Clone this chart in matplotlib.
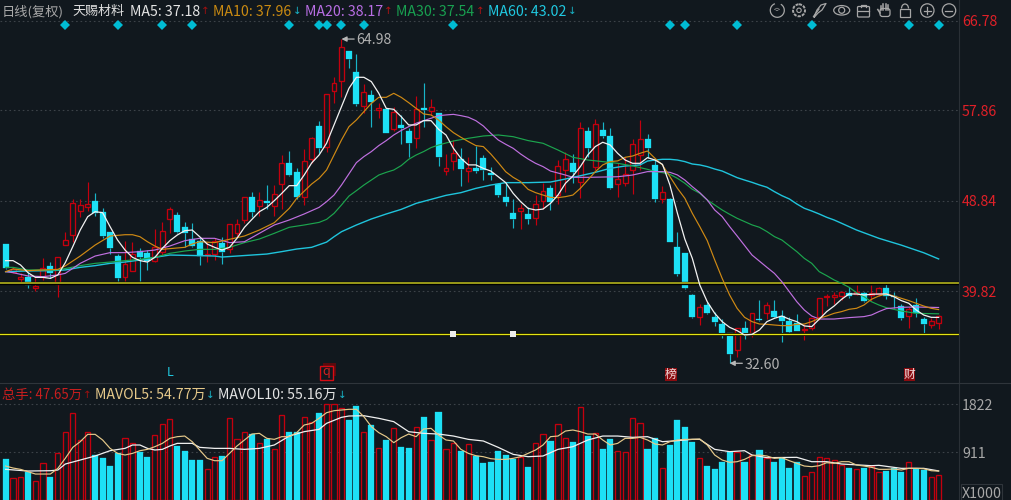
import matplotlib
matplotlib.use("Agg")
import matplotlib.pyplot as plt
from matplotlib.patches import Circle, Ellipse, Rectangle, Arc, FancyBboxPatch

plt.rcParams['font.family'] = ['Noto Sans CJK SC', 'DejaVu Sans']

BG = "#11181e"
RED = "#c4000e"
CYAN = "#1de0f5"
WICK_CYAN = "#18b4c8"

opens = [44.51, 41.75, 41.02, 41.25, 40.15, 41.18, 42.35, 40.48, 44.38, 45.38,
         47.77, 48.24, 48.84, 47.74, 45.74, 43.31, 41.25, 41.82, 43.85, 43.65,
         42.85, 43.75, 47.04, 47.37, 46.24, 44.98, 44.84, 43.38, 43.51, 44.58,
         44.05, 45.58, 46.91, 49.17, 48.3, 48.84, 48.3, 50.5, 52.57, 51.74,
         49.24, 52.97, 56.3, 54.24, 59.79, 60.79, 63.82, 61.72, 58.3, 59.4,
         57.93, 57.96, 55.97, 56.4, 55.8, 55.07, 58.13, 57.83, 57.57, 51.8,
         52.77, 53.0, 51.8, 52.07, 53.1, 51.63, 50.5, 49.24, 47.57, 47.8,
         47.47, 47.14, 48.77, 50.14, 49.4, 51.9, 52.57, 50.67, 55.8, 52.2,
         55.9, 55.33, 50.54, 50.64, 51.9, 53.4, 55.0, 52.4, 48.97, 48.97,
         44.18, 43.65, 39.42, 37.26, 38.42, 37.26, 36.52, 35.66, 33.93, 36.09,
         35.59, 37.02, 37.59, 37.82, 37.32, 36.86, 36.59, 35.89, 36.09, 37.19,
         39.19, 39.25, 39.35, 39.58, 39.52, 39.58, 39.42, 39.49, 40.15, 39.3,
         38.32, 37.36, 38.42, 37.02, 36.42, 36.66]
highs = [44.51, 42.2, 41.6, 41.7, 41.1, 43.1, 42.75, 43.18, 45.74, 48.97,
         48.97, 50.67, 49.57, 48.14, 45.74, 43.5, 44.84, 44.74, 44.08, 43.91,
         45.98, 46.74, 48.24, 47.74, 46.74, 46.57, 45.08, 44.74, 45.08, 45.18,
         46.48, 46.97, 49.17, 49.74, 49.7, 50.4, 50.4, 53.4, 53.8, 52.07,
         54.0, 55.2, 56.83, 59.46, 61.16, 64.98, 63.82, 63.49, 60.49, 59.9,
         58.63, 57.96, 58.23, 57.4, 56.07, 59.3, 60.56, 59.03, 57.57, 53.5,
         54.9, 54.07, 53.2, 54.25, 53.4, 52.24, 50.6, 50.64, 48.97, 48.47,
         48.24, 49.4, 50.57, 50.4, 52.9, 53.7, 53.5, 56.73, 56.17, 56.97,
         56.73, 56.07, 52.57, 53.24, 54.97, 56.9, 55.5, 52.9, 50.3, 49.07,
         45.74, 43.65, 39.52, 38.52, 38.75, 37.76, 37.0, 35.66, 36.16, 36.86,
         37.59, 38.92, 38.75, 38.92, 37.92, 37.19, 37.52, 36.52, 37.09, 39.15,
         39.49, 39.75, 39.85, 40.25, 40.42, 39.7, 40.42, 40.2, 40.49, 39.75,
         38.5, 38.2, 39.09, 37.19, 37.09, 37.42]
lows = [41.98, 41.6, 40.75, 40.15, 39.85, 40.9, 41.1, 39.25, 44.38, 44.74,
        47.24, 47.84, 47.3, 45.08, 43.48, 40.82, 40.82, 41.82, 40.82, 41.92,
        42.75, 43.41, 45.58, 45.58, 44.25, 44.18, 42.38, 42.75, 42.92, 42.48,
        43.58, 45.24, 46.64, 47.17, 47.3, 47.97, 47.3, 47.97, 51.3, 48.97,
        48.4, 52.57, 53.64, 53.74, 58.56, 59.23, 62.06, 58.3, 57.63, 56.17,
        57.07, 55.63, 55.83, 54.5, 53.24, 54.07, 56.23, 57.4, 52.3, 51.4,
        51.9, 50.34, 50.74, 51.57, 50.9, 50.9, 49.24, 48.3, 46.08, 45.98,
        46.51, 46.41, 47.97, 47.9, 48.47, 49.74, 50.57, 49.07, 53.24, 51.9,
        55.07, 50.0, 49.17, 50.3, 49.5, 51.9, 53.07, 48.67, 48.57, 44.68,
        41.35, 39.99, 37.09, 36.43, 37.52, 36.33, 35.16, 32.6, 33.26, 35.03,
        35.19, 36.86, 37.0, 37.09, 34.76, 35.66, 35.83, 34.93, 35.93, 36.92,
        38.32, 38.52, 38.92, 39.09, 39.4, 38.75, 38.85, 39.35, 39.02, 38.09,
        36.92, 36.09, 37.19, 35.53, 36.09, 36.03]
closes = [42.12, 42.05, 41.18, 40.42, 40.32, 42.08, 41.65, 43.18, 44.91, 48.57,
          48.4, 48.5, 47.64, 45.31, 44.15, 41.15, 42.52, 43.51, 43.18, 42.85,
          44.18, 45.84, 47.97, 45.71, 45.58, 44.31, 43.31, 43.51, 44.84, 43.71,
          46.48, 46.48, 49.17, 47.74, 48.9, 48.57, 49.5, 52.57, 51.4, 49.24,
          52.84, 55.13, 54.07, 59.46, 60.63, 64.15, 62.99, 58.5, 59.66, 58.73,
          58.13, 55.63, 57.66, 56.07, 54.57, 57.96, 57.86, 58.23, 53.24, 52.14,
          53.64, 52.0, 52.14, 51.8, 51.9, 51.37, 49.4, 48.74, 47.0, 48.1,
          47.0, 48.5, 49.77, 48.74, 52.34, 52.97, 51.7, 56.07, 54.07, 56.5,
          55.3, 50.07, 50.97, 51.5, 54.5, 54.97, 54.14, 49.0, 49.67, 44.68,
          41.48, 40.09, 37.19, 38.19, 37.66, 36.73, 35.59, 33.5, 36.16, 35.43,
          37.59, 36.9, 38.42, 37.26, 36.82, 35.76, 35.83, 36.02, 37.09, 39.15,
          39.35, 39.42, 39.69, 39.32, 39.69, 38.82, 39.58, 40.09, 39.35, 39.2,
          37.16, 38.02, 37.59, 36.49, 36.82, 37.32]

ma5 = [42.85, 42.85, 42.42, 41.65, 41.18, 41.18, 41.08, 41.42, 42.65, 44.25,
       45.91, 47.24, 47.74, 47.64, 46.24, 44.91, 43.91, 43.18, 42.85, 42.71,
       43.18, 44.08, 44.84, 45.41, 45.84, 45.91, 45.24, 44.51, 44.18, 43.91,
       44.18, 45.08, 46.18, 46.97, 47.74, 48.17, 48.84, 49.57, 50.34, 50.34,
       51.4, 52.6, 53.4, 54.57, 56.4, 58.23, 60.06, 61.16, 61.16, 60.73,
       59.56, 58.06, 57.96, 57.23, 56.4, 56.4, 56.83, 56.83, 55.97, 55.4,
       54.07, 53.07, 52.41, 52.41, 52.07, 51.8, 51.23, 50.64, 49.57, 48.74,
       48.07, 47.91, 48.0, 48.57, 49.4, 50.57, 51.3, 52.24, 53.4, 54.24,
       54.67, 54.4, 53.57, 52.9, 52.57, 52.57, 53.14, 52.9, 52.47, 50.4,
       47.6, 45.0, 43.08, 40.42, 38.75, 37.59, 36.76, 36.19, 35.86, 35.43,
       35.49, 35.93, 36.76, 37.09, 37.32, 37.0, 36.76, 36.33, 36.26, 37.0,
       37.76, 38.32, 38.99, 39.52, 39.52, 39.42, 39.49, 39.52, 39.52, 39.25,
       38.86, 38.59, 37.92, 37.42, 37.19, 37.18]

ma10_idx = [0, 1, 3, 5, 7, 8, 10, 12, 14, 16, 17, 18, 19, 20, 21, 22, 24, 25, 26, 28,
            30, 32, 34, 36, 38, 39, 41, 42, 43, 44, 45, 46, 47, 48, 49, 50, 51, 52, 53, 54,
            55, 56, 57, 58, 59, 60, 61, 62, 63, 64, 65, 66, 67, 68, 69, 70, 71, 72, 73, 74,
            75, 76, 77, 78, 79, 80, 81, 82, 83, 84, 85, 86, 87, 88, 89, 90, 91, 92, 93, 94,
            95, 96, 97, 98, 99, 100, 101, 102, 103, 104, 105, 106, 107, 108, 109, 110, 111, 112, 113, 114,
            115, 116, 117, 118, 119, 120, 121, 122, 123, 124, 125]
ma10 = [41.75, 42.02, 41.85, 41.92, 41.98, 42.32, 43.31, 44.41, 45.31, 45.44, 45.44, 45.24, 44.74, 44.31, 43.98, 44.05, 44.18, 44.51, 44.74, 44.65,
        44.98, 45.31, 45.91, 46.64, 48.07, 49.07, 50.5, 51.07, 51.9, 53.4, 54.9, 56.23, 56.9, 57.73, 58.56, 59.16, 59.16, 59.56, 59.16, 58.63,
        58.06, 57.5, 57.4, 56.9, 56.23, 55.63, 55.17, 54.74, 54.34, 54.24, 53.5, 52.64, 51.73, 51.17, 50.74, 49.97, 49.64, 49.4, 49.17, 49.14,
        49.24, 49.4, 50.07, 50.9, 51.73, 52.41, 52.74, 52.81, 53.17, 53.3, 53.57, 53.8, 53.07, 52.4, 51.24, 50.08, 49.08, 47.58, 46.25, 44.85,
        42.92, 41.08, 39.42, 38.09, 37.19, 36.76, 36.52, 36.49, 36.42, 36.36, 36.36, 36.49, 36.52, 36.76, 37.09, 37.32, 37.59, 37.76, 37.99, 38.09,
        38.42, 38.99, 39.32, 39.52, 39.32, 39.09, 38.86, 38.59, 38.32, 38.09, 37.96]

ma20_idx = [0, 1, 3, 5, 7, 8, 9, 10, 12, 14, 16, 18, 20, 22, 24, 26, 28, 30, 32, 34,
            36, 38, 40, 42, 43, 44, 45, 47, 48, 49, 50, 51, 52, 53, 54, 55, 56, 57, 58, 59,
            60, 61, 62, 63, 64, 65, 66, 67, 68, 69, 70, 71, 72, 73, 75, 76, 78, 80, 82, 84,
            85, 86, 88, 89, 90, 91, 92, 93, 94, 95, 96, 97, 98, 100, 102, 103, 104, 105, 106, 107,
            108, 109, 111, 113, 115, 116, 117, 118, 120, 122, 125]
ma20 = [41.75, 41.65, 41.32, 41.25, 41.42, 41.58, 42.08, 42.58, 43.31, 43.65, 43.65, 43.75, 43.91, 44.31, 44.84, 45.08, 45.08, 44.65, 44.74, 45.58,
        46.41, 46.91, 47.51, 48.17, 48.74, 49.4, 50.4, 52.64, 53.24, 53.74, 54.34, 54.84, 55.4, 55.85, 56.23, 56.57, 56.83, 57.07, 57.33, 57.4,
        57.46, 57.33, 57.17, 56.83, 56.3, 55.57, 54.9, 54.47, 54.07, 53.5, 53.0, 52.57, 52.24, 51.8, 51.4, 51.17, 51.17, 51.2, 51.23, 51.4,
        51.57, 51.74, 51.74, 51.67, 51.41, 50.9, 50.24, 49.64, 48.91, 47.91, 47.25, 46.25, 45.32, 43.41, 42.18, 41.58, 40.75, 39.75, 38.75, 37.92,
        37.32, 37.02, 37.02, 37.16, 37.26, 37.42, 37.76, 38.06, 38.19, 38.22, 38.17]

ma30_idx = [0, 1, 3, 7, 10, 12, 14, 16, 18, 20, 22, 24, 26, 28, 30, 32, 34, 36, 38, 40,
            42, 43, 44, 45, 46, 47, 48, 49, 50, 51, 52, 53, 54, 55, 56, 57, 58, 60, 62, 64,
            66, 68, 70, 72, 74, 76, 78, 80, 82, 84, 85, 86, 87, 88, 89, 90, 91, 92, 93, 94,
            95, 96, 97, 98, 99, 100, 101, 102, 103, 104, 106, 107, 108, 109, 110, 111, 112, 113, 114, 115,
            116, 117, 118, 120, 122, 125]
ma30 = [42.18, 42.18, 41.92, 41.92, 42.35, 42.58, 42.71, 42.85, 42.98, 43.18, 43.58, 43.81, 43.98, 43.98, 44.18, 44.65, 45.01, 45.58, 46.18, 46.41,
        46.67, 46.97, 47.57, 48.41, 49.3, 49.84, 50.4, 50.9, 51.4, 51.67, 51.9, 52.34, 52.97, 53.4, 53.74, 54.14, 54.4, 54.8, 55.07, 55.3,
        55.4, 55.23, 54.84, 54.57, 53.9, 53.17, 52.9, 52.74, 52.57, 52.31, 52.14, 51.97, 51.74, 51.64, 51.47, 51.07, 50.58, 49.98, 49.58, 48.91,
        48.41, 47.91, 47.48, 47.08, 46.75, 46.42, 46.18, 45.75, 45.25, 44.91, 43.75, 43.08, 42.58, 41.75, 41.35, 40.92, 40.58, 40.19, 39.65, 39.25,
        38.75, 38.42, 38.15, 37.82, 37.59, 37.54]

ma60_idx = [0, 3, 6, 8, 10, 12, 14, 16, 18, 20, 22, 24, 26, 28, 29, 31, 33, 35, 37, 39,
            41, 43, 44, 45, 47, 49, 51, 53, 55, 57, 59, 61, 63, 65, 67, 70, 73, 75, 77, 79,
            81, 83, 85, 86, 87, 88, 89, 90, 91, 92, 93, 94, 95, 96, 97, 98, 99, 100, 101, 102,
            103, 104, 105, 106, 107, 108, 109, 110, 111, 112, 114, 117, 120, 123, 125]
ma60 = [41.75, 41.82, 41.85, 41.92, 42.18, 42.35, 42.58, 42.71, 42.91, 43.18, 43.41, 43.38, 43.35, 43.31, 43.21, 43.31, 43.41, 43.51, 43.75, 44.01,
        44.18, 44.7, 45.24, 45.74, 46.41, 47.01, 47.51, 47.97, 48.57, 48.97, 49.37, 49.64, 50.07, 50.4, 50.64, 50.64, 50.7, 51.0, 51.33, 51.67,
        52.07, 52.3, 52.41, 52.8, 52.9, 52.97, 52.97, 52.9, 52.74, 52.5, 52.41, 52.24, 52.0, 51.8, 51.47, 51.14, 50.9, 50.67, 50.41, 50.18,
        49.74, 49.34, 49.01, 48.51, 48.08, 47.81, 47.51, 47.18, 46.91, 46.58, 45.91, 45.08, 44.4, 43.64, 43.02]

volumes = [771, 417, 443, 537, 360, 708, 430, 885, 1290, 1657,
           1139, 1297, 854, 791, 651, 885, 1170, 1075, 917, 810,
           1233, 1442, 1531, 1031, 936, 759, 759, 582, 810, 835,
           1550, 1151, 1297, 1252, 1075, 1151, 961, 1613, 1297, 1297,
           1569, 1487, 1645, 1816, 1816, 1752, 1518, 1784, 1290, 1417,
           980, 1139, 1373, 1012, 993, 1392, 1581, 1132, 1664, 961,
           1088, 936, 1063, 835, 696, 715, 936, 854, 771, 810,
           632, 1075, 1246, 1120, 1436, 1170, 1101, 1759, 1214, 1278,
           974, 1151, 930, 904, 1550, 1455, 974, 1170, 601, 1044,
           1518, 1379, 1101, 803, 645, 588, 715, 917, 917, 715,
           854, 949, 791, 715, 791, 613, 715, 462, 537, 822,
           803, 759, 664, 613, 588, 613, 645, 525, 550, 601,
           525, 721, 588, 569, 443, 477]

mavol5 = [645, 607, 582, 537, 493, 493, 493, 601, 791, 999,
          1107, 1246, 1246, 1139, 980, 885, 854, 885, 936, 961,
          1012, 1075, 1170, 1202, 1214, 1107, 949, 791, 746, 746,
          885, 1025, 1139, 1252, 1265, 1170, 1151, 1202, 1202, 1278,
          1423, 1455, 1550, 1657, 1695, 1708, 1721, 1721, 1581, 1392,
          1278, 1202, 1088, 1183, 1252, 1202, 1347, 1360, 1233, 1139,
          1120, 961, 885, 841, 822, 784, 771, 771, 791, 822,
          885, 949, 1044, 1202, 1214, 1309, 1328, 1297, 1252, 1252,
          1139, 1044, 1075, 1170, 1170, 1189, 1139, 1063, 1044, 1107,
          1139, 1151, 1151, 1157, 1044, 854, 759, 715, 727, 771,
          841, 854, 835, 791, 803, 746, 696, 645, 632, 651,
          708, 696, 727, 727, 664, 645, 620, 582, 582, 588,
          569, 601, 601, 594, 556, 548]

mavol10_idx = [0, 3, 6, 7, 8, 10, 12, 14, 16, 17, 18, 19, 20, 21, 22, 23, 25, 26, 28, 30,
               32, 34, 36, 38, 40, 42, 43, 45, 46, 48, 50, 52, 54, 56, 58, 60, 62, 64, 66, 68,
               70, 72, 74, 76, 78, 80, 82, 84, 86, 88, 90, 92, 93, 95, 97, 99, 100, 102, 106, 108,
               110, 112, 116, 117, 119, 120, 123, 125]
mavol10 = [582, 550, 556, 569, 683, 759, 835, 936, 980, 1044, 1044, 980, 949, 961, 1025, 1075, 1075, 999, 980, 980,
           961, 980, 1044, 1214, 1297, 1341, 1455, 1569, 1594, 1600, 1550, 1487, 1297, 1265, 1252, 1214, 1151, 1120, 999, 866,
           822, 835, 961, 1012, 1139, 1214, 1214, 1189, 1202, 1107, 1126, 1151, 1151, 961, 917, 936, 854, 803, 810, 727,
           727, 683, 651, 658, 620, 601, 601, 552]

diamond_idx = [8, 15, 21, 25, 38, 42, 43, 45, 48, 60, 89, 91, 98, 108, 121, 125]
square_idx = [60, 68]
price_ticks = [66.78, 57.86, 48.84, 39.82]
vol_ticks = [1822, 911]
resist_level = 40.58
support_level = 35.53

n = len(closes)
xs = list(range(n))

W, H = 1012, 500
fig = plt.figure(figsize=(W / 100, H / 100), dpi=100, facecolor=BG)

# price panel
ax = fig.add_axes([0, (H - 382) / H, 959 / W, 382 / H], facecolor=BG)
ax.set_xlim(-0.75, 127.73)
ax.set_ylim(30.73, 68.88)
ax.axis("off")
for p in price_ticks:
    ax.axhline(p, color="#3c4248", lw=0.8, ls=(0, (1.5, 2.5)), zorder=1)

for i in xs:
    up = closes[i] >= opens[i]
    col = RED if up else WICK_CYAN
    top, bot = max(opens[i], closes[i]), min(opens[i], closes[i])
    ax.vlines(i, top, highs[i], color=col, lw=0.85, zorder=2)
    ax.vlines(i, lows[i], bot, color=col, lw=0.85, zorder=2)
    if up:
        ax.bar(i, top - bot, bottom=bot, width=0.66, facecolor=BG, edgecolor=RED, lw=0.95, zorder=3)
    else:
        ax.bar(i, top - bot, bottom=bot, width=0.8, facecolor=CYAN, edgecolor=CYAN, lw=0.2, zorder=3)

ax.axhline(resist_level, color="#000000", lw=2.4, zorder=4)
ax.axhline(resist_level, color="#b4b41e", lw=1.2, zorder=5)
ax.axhline(support_level, color="#000000", lw=2.2, zorder=4)
ax.axhline(support_level, color="#e4e414", lw=1.0, zorder=5)

ax.plot(ma60_idx, ma60, color="#1fc4dc", lw=1.0, zorder=6)
ax.plot(ma30_idx, ma30, color="#1ca54e", lw=0.85, zorder=6)
ax.plot(ma20_idx, ma20, color="#c070e0", lw=0.85, zorder=6)
ax.plot(ma10_idx, ma10, color="#d08a14", lw=0.85, zorder=6)
ax.plot(xs, ma5, color="#f2f2f2", lw=0.9, zorder=7)

ax.plot(diamond_idx, [66.36] * len(diamond_idx), ls="none", marker="D", ms=5.6, mew=0, color="#00bcd4", zorder=8)
ax.plot(square_idx, [support_level] * len(square_idx), ls="none", marker="s", ms=4.4, mew=0, color="#eeeeee", zorder=8)

# volume panel
vax = fig.add_axes([0, 0, 959 / W, (H - 383) / H], facecolor=BG)
vax.set_xlim(-0.75, 127.73)
vax.set_ylim(0, 117 * 18.98)
vax.axis("off")
for v in vol_ticks:
    vax.axhline(v, color="#3c4248", lw=0.8, ls=(0, (1.5, 2.5)), zorder=1)
for i in xs:
    if closes[i] >= opens[i]:
        vax.bar(i, volumes[i], width=0.7, facecolor=BG, edgecolor=RED, lw=0.95, zorder=2)
    else:
        vax.bar(i, volumes[i], width=0.82, facecolor=CYAN, edgecolor=CYAN, lw=0.2, zorder=2)
vax.plot(mavol10_idx, mavol10, color="#f0f0f0", lw=0.9, zorder=3)
vax.plot(xs, mavol5, color="#e6c98a", lw=0.85, zorder=4)

# overlay in pixels for the header, right-hand labels and toolbar
ov = fig.add_axes([0, 0, 1, 1], facecolor="none")
ov.set_xlim(0, W)
ov.set_ylim(H, 0)
ov.axis("off")
ov.plot([959, 959], [0, H], color="#2a3036", lw=0.8)
ov.plot([0, W], [382.5, 382.5], color="#2f353b", lw=0.8)


def label(x, y, s, color, size=10.2):
    ov.text(x, y, s, color=color, fontsize=size, ha="left", va="center_baseline")


def arrow(x, y, s, color):
    ov.text(x, y, s, color=color, fontsize=7.5, family="DejaVu Sans", ha="center", va="center_baseline")


top_y = 10
label(2, top_y, "日线(复权)", "#a8a8a8", size=9.5)
label(72, top_y, "天赐材料", "#dddddd", size=9.4)
label(130, top_y, "MA5: 37.18", "#e4e4e4")
arrow(205, top_y, "↑", "#a01010")
label(213.5, top_y, "MA10: 37.96", "#c98a12")
arrow(297, top_y, "↓", "#18b4c8")
label(305, top_y, "MA20: 38.17", "#b86ee4")
arrow(388.5, top_y, "↑", "#b01414")
label(396.5, top_y, "MA30: 37.54", "#18a050")
arrow(480, top_y, "↑", "#b01414")
label(488.3, top_y, "MA60: 43.02", "#20c8e0")
arrow(572, top_y, "↓", "#18b4c8")

vol_y = 393.5
label(2, vol_y, "总手: 47.65万", "#c81e1e", size=9.6)
arrow(87.5, vol_y, "↑", "#a01010")
label(95, vol_y, "MAVOL5: 54.77万", "#e6c98a")
arrow(210, vol_y, "↓", "#18b4c8")
label(218.5, vol_y, "MAVOL10: 55.16万", "#e4e4e4")
arrow(342, vol_y, "↓", "#18b4c8")

for y, s in zip([21, 110.5, 200.5, 291.5], ["66.78", "57.86", "48.84", "39.82"]):
    label(962, y, s, "#e02028")
label(962, 404.5, "1822", "#a8a8a8")
label(962, 452.5, "911", "#a8a8a8")
ov.add_patch(Rectangle((961, 484), 41, 16, facecolor="none", edgecolor="#2f353b", lw=0.8))
label(962, 492, "X1000", "#a8a8a8")

# high and low callouts
ax.annotate("", xy=(45, 64.98), xytext=(46.7, 64.98),
            arrowprops=dict(arrowstyle="-|>,head_width=0.15,head_length=0.3", color="#b8b8b8", lw=0.9, shrinkA=0, shrinkB=0))
label(356, 38, "64.98", "#b0b0b0")
ax.annotate("", xy=(97, 32.6), xytext=(98.7, 32.6),
            arrowprops=dict(arrowstyle="-|>,head_width=0.15,head_length=0.3", color="#b8b8b8", lw=0.9, shrinkA=0, shrinkB=0))
label(745, 363.5, "32.60", "#b0b0b0")

# event tags
ov.text(170, 373, "L", color="#20c8e0", fontsize=9, ha="center", va="center")
ov.add_patch(Rectangle((323, 363), 13, 13, facecolor="#5a0a0e", edgecolor="none"))
ov.add_patch(Rectangle((320, 366), 13, 14, facecolor=BG, edgecolor="#d80c14", lw=1))
ov.text(326.5, 372, "q", color="#d82020", fontsize=9, ha="center", va="center")
ov.add_patch(Rectangle((665, 368), 12, 13, facecolor="#8a0c10", edgecolor="none"))
ov.text(671, 374.2, "榜", color="#f0d8d8", fontsize=8.5, ha="center", va="center")
ov.add_patch(Rectangle((904, 368), 11.5, 13, facecolor="#8a0c10", edgecolor="none"))
ov.text(909.7, 374.2, "财", color="#f0d8d8", fontsize=8.5, ha="center", va="center")

# toolbar icons
ic = "#a6a6a6"
ov.add_patch(Arc((777.3, 10.3), 14, 14, theta1=-60, theta2=250, color=ic, lw=0.9))
ov.text(777.3, 10.2, "<>", color=ic, fontsize=4.5, ha="center", va="center")
ov.add_patch(Circle((799, 10.3), 6, facecolor="none", edgecolor=ic, lw=1.4, ls=(0, (1.6, 0.6))))
ov.add_patch(Circle((799, 10.3), 2.2, facecolor="none", edgecolor=ic, lw=0.8))
ov.plot([814, 817, 821, 826, 822, 818, 814.5], [17, 10, 5, 3.5, 10, 13, 17], color=ic, lw=0.9)
ov.plot([813.5, 819], [16.5, 9], color=ic, lw=0.9)
ov.add_patch(Ellipse((841.7, 10.3), 16, 9.5, facecolor="none", edgecolor=ic, lw=0.9))
ov.add_patch(Circle((841.7, 10.3), 3, facecolor="none", edgecolor=ic, lw=0.9))
ov.add_patch(FancyBboxPatch((858, 7), 11, 9.5, boxstyle="round,pad=0.5,rounding_size=1", facecolor="none", edgecolor=ic, lw=0.9))
ov.plot([858, 869], [10.5, 10.5], color=ic, lw=0.9)
ov.plot([861, 861, 866, 866], [7, 4.5, 4.5, 7], color=ic, lw=0.9)
ov.add_patch(FancyBboxPatch((880.5, 9), 9, 7, boxstyle="round,pad=0.5,rounding_size=2.5", facecolor="none", edgecolor=ic, lw=0.9))
for hx, top in zip([881, 883.4, 885.8, 888.2], [6, 4, 3.5, 5]):
    ov.plot([hx, hx], [10, top], color=ic, lw=1.1)
ov.plot([880, 877.8], [13, 9.5], color=ic, lw=1.1)
ov.add_patch(Rectangle((900.5, 8.5), 9.5, 8, facecolor="none", edgecolor=ic, lw=0.9))
ov.add_patch(Arc((905, 8.5), 7, 9, theta1=180, theta2=360, color=ic, lw=0.9))
for cx in [927.3, 949]:
    ov.add_patch(Circle((cx, 10.5), 6.7, facecolor="none", edgecolor=ic, lw=0.9))
    ov.plot([cx - 3.5, cx + 3.5], [10.5, 10.5], color=ic, lw=0.9)
ov.plot([927.3, 927.3], [7, 14], color=ic, lw=0.9)

fig.savefig("out.png", dpi=100, facecolor=BG)
plt.close(fig)
